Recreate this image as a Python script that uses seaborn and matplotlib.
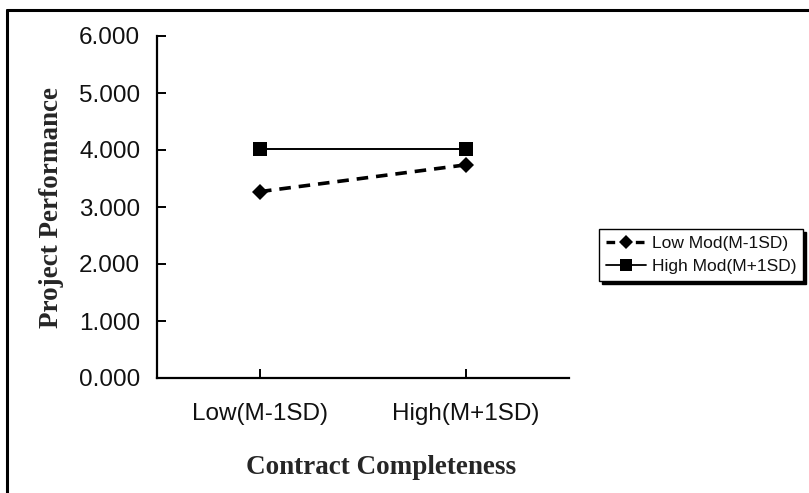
import matplotlib
matplotlib.use("Agg")
import matplotlib.pyplot as plt
import seaborn as sns
import pandas as pd
from matplotlib.lines import Line2D

# Simple-slope values for the moderation plot
levels = ["Low(M-1SD)", "High(M+1SD)"]
low_mod = [3.27, 3.74]
high_mod = [4.01, 4.01]
series_names = ["Low Mod(M-1SD)", "High Mod(M+1SD)"]
y_ticks = [0, 1, 2, 3, 4, 5, 6]

df = pd.DataFrame({
    "x": list(range(len(levels))) * 2,
    "y": low_mod + high_mod,
    "group": [series_names[0]] * len(levels) + [series_names[1]] * len(levels),
})

sns.set_theme(style="white")
plt.rcParams["font.family"] = ["Liberation Sans", "DejaVu Sans"]

W, H = 809, 493
fig = plt.figure(figsize=(W / 100, H / 100), dpi=100)
ax_l, ax_r, ax_t, ax_b = 157, 569, 36, 378
ax = fig.add_axes([ax_l / W, 1 - ax_b / H, (ax_r - ax_l) / W, (ax_b - ax_t) / H])

sns.lineplot(
    data=df, x="x", y="y", hue="group", style="group",
    hue_order=series_names, style_order=series_names,
    palette=["black", "black"],
    markers={series_names[0]: "D", series_names[1]: "s"},
    dashes={series_names[0]: (3.2, 2.2), series_names[1]: ""},
    markersize=9, markeredgewidth=0, legend=False, ax=ax,
)
lines = ax.get_lines()
lines[0].set_linewidth(2.6)
lines[0].set_markersize(8.5)
lines[1].set_linewidth(1.4)
lines[1].set_markersize(10)

ax.set_xlim(-0.5, len(levels) - 0.5)
ax.set_ylim(0, 6)
ax.set_xticks(range(len(levels)))
ax.set_xticklabels(levels)
ax.set_yticks(y_ticks)
ax.set_yticklabels([f"{v:.3f}" for v in y_ticks])

for side in ["top", "right"]:
    ax.spines[side].set_visible(False)
for side in ["left", "bottom"]:
    ax.spines[side].set_color("black")
    ax.spines[side].set_linewidth(1.6)

ax.tick_params(axis="y", direction="in", length=6.5, width=1.4, color="black",
               left=True, pad=12, labelsize=17.5, labelcolor="#111111")
ax.tick_params(axis="x", direction="in", length=6.5, width=1.4, color="black",
               bottom=True, pad=18, labelsize=17.5, labelcolor="#111111")

serif = ["Liberation Serif", "DejaVu Serif"]
ax.set_xlabel("Contract Completeness", fontsize=19.5, fontweight="bold",
              family=serif, va="center", ha="center")
ax.xaxis.set_label_coords((381 - ax_l) / (ax_r - ax_l), -(468 - ax_b) / (ax_b - ax_t))
ax.set_ylabel("Project Performance", fontsize=19.5, fontweight="bold",
              family=serif, va="center", ha="center")
ax.yaxis.set_label_coords((52 - ax_l) / (ax_r - ax_l), 0.5)
ax.grid(False)

handles = [
    Line2D([], [], color="black", linestyle=(0, (2.6, 1.8)), linewidth=2.4,
           marker="D", markersize=7.5, markeredgewidth=0),
    Line2D([], [], color="black", linestyle="-", linewidth=1.3,
           marker="s", markersize=8.5, markeredgewidth=0),
]
leg = fig.legend(
    handles, series_names, loc="lower right",
    bbox_to_anchor=(803 / W, 1 - 281 / H),
    fontsize=12.5, frameon=True, fancybox=False, handlelength=2.3,
    handletextpad=0.3, borderpad=0.4, labelspacing=0.45, borderaxespad=0,
    shadow={"color": "black", "alpha": 1.0},
)
leg.get_frame().set_edgecolor("black")
leg.get_frame().set_linewidth(1.0)
for t in leg.get_texts():
    t.set_color("#111111")

# Frame lines along the left and top edges of the figure
fig.add_artist(Line2D([7 / W, 7 / W], [0, 1 - 10 / H], transform=fig.transFigure,
                      color="black", linewidth=2.2))
fig.add_artist(Line2D([7 / W, 1], [1 - 10 / H, 1 - 10 / H], transform=fig.transFigure,
                      color="black", linewidth=2.2))

fig.savefig("out.png", dpi=100, facecolor="white")
